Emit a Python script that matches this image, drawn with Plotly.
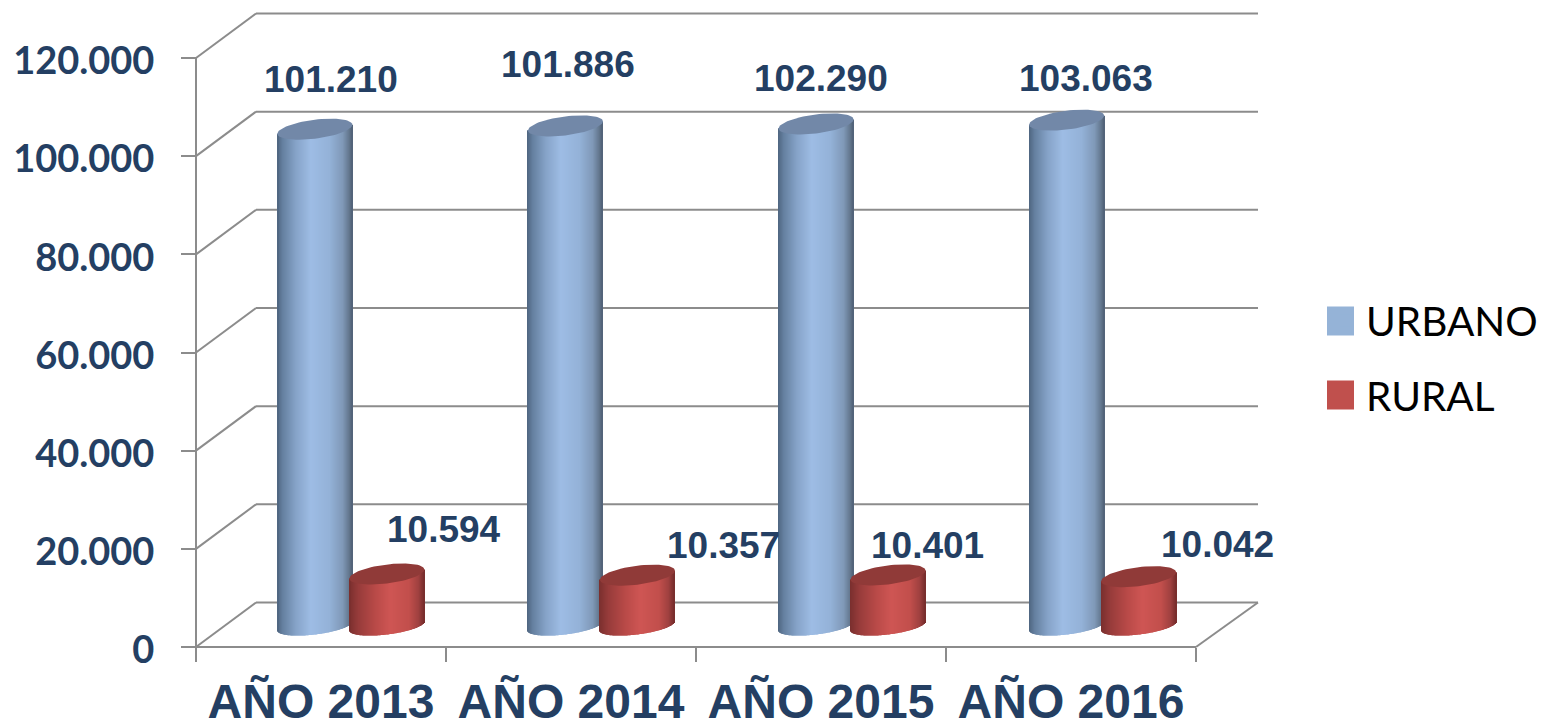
import numpy as np
import plotly.graph_objects as go

# ---- data
categories = ["AÑO 2013", "AÑO 2014", "AÑO 2015", "AÑO 2016"]
urbano = [101210, 101886, 102290, 103063]
rural = [10594, 10357, 10401, 10042]
y_ticks = [0, 20000, 40000, 60000, 80000, 100000, 120000]

# ---- label nudges in px (hand-placed in the original)
urbano_shift_x = [16, 3, 6, 21]
urbano_shift_y = [50, 61, 45, 42]
rural_shift_x = [57, 87, 41, 81]
rural_shift_y = [45, 30, 29, 32]

# ---- geometry: pixels of the page
W, H = 1554, 723
X0_PX, CAT_PX = 196, 250.0
Y0_PX, Y120_PX = 647, 58
UNIT_PER_PX = 120000 / (Y0_PX - Y120_PX)
px_x = lambda p: p / CAT_PX          # length in px -> x units
px_y = lambda p: p * UNIT_PER_PX     # length in px -> y units

DEPTH_X, DEPTH_Y = px_x(60), px_y(44.5)      # back wall shift
MID_X, MID_Y = px_x(29.5), px_y(21)          # bars stand mid-depth
PITCH = 250.6 / CAT_PX
HALF_W = 37.5
BAR_OFF = 36
ELL_B = 9.5
ELL_B_LOW = 8.5
SHEAR = 0.12
N = 75

GREY = "#8C8C8C"
TEXT = "#243F63"
BLUE_LEGEND, RED_LEGEND = "#95B3D7", "#C0504D"
BLUE_STOPS = [(-1, "#4F6580"), (-0.85, "#6580A0"), (-0.5, "#86A3C8"), (-0.1, "#9EBDE5"),
              (0.4, "#94B2D8"), (0.75, "#8099B8"), (0.92, "#64788F"), (1, "#506176")]
RED_STOPS = [(-1, "#7A2F2E"), (-0.75, "#973C3B"), (-0.3, "#B94A48"), (0.1, "#CF5654"),
             (0.6, "#C24F4C"), (0.85, "#A04140"), (1, "#762D2C")]


def hex_rgb(h):
    return [int(h[i:i + 2], 16) for i in (1, 3, 5)]


def shade(stops, u):
    xs = [s[0] for s in stops]
    cols = np.array([hex_rgb(s[1]) for s in stops])
    return "rgb(%d,%d,%d)" % tuple(np.interp(u, xs, cols[:, c]) for c in range(3))


def cylinder_traces(values, side, stops, top_color, name, legend_color, legend_u):
    sx, sy, sbase, scol = [], [], [], []
    ell = []
    us = (np.arange(N) + 0.5) / N * 2 - 1
    w = px_x(2 * HALF_W) / N
    for k, v in enumerate(values):
        cx = (k + 0.5) * PITCH + MID_X + side * px_x(BAR_OFF)
        for u in us:
            dx = u * HALF_W
            bottom = MID_Y + px_y(SHEAR * dx - ELL_B_LOW * np.sqrt(1 - u * u))
            top = MID_Y + v + px_y(SHEAR * dx)
            sx.append(cx + px_x(dx))
            sbase.append(bottom)
            sy.append(top - bottom)
            scol.append(shade(stops, u))
        t = np.linspace(0, 2 * np.pi, 73)
        ex = cx + px_x(HALF_W * np.cos(t))
        ey = MID_Y + v + px_y(SHEAR * HALF_W * np.cos(t) + ELL_B * np.sin(t))
        ell.append(go.Scatter(x=ex, y=ey, mode="lines", fill="toself", fillcolor=top_color,
                              line=dict(width=0, color=top_color), hoverinfo="skip",
                              showlegend=False))
    # the legend swatch takes the first strip's colour: lead with a strip of that colour
    i = int(np.argmin(np.abs(us - legend_u)))
    for lst in (sx, sy, sbase, scol):
        lst[0], lst[i] = lst[i], lst[0]
    scol[0] = legend_color
    bars = go.Bar(x=sx, y=sy, base=sbase, width=w, name=name, legendgroup=name,
                  marker=dict(color=scol, line=dict(width=0)), hoverinfo="skip")
    return [bars] + ell


fig = go.Figure()
for tr in cylinder_traces(urbano, -1, BLUE_STOPS, "#7288A8", "URBANO", BLUE_LEGEND, 0.4):
    fig.add_trace(tr)
for tr in cylinder_traces(rural, 1, RED_STOPS, "#903A38", "RURAL", RED_LEGEND, 0.6):
    fig.add_trace(tr)

# ---- walls
shapes = []
line = dict(color=GREY, width=2)
n_cat = len(categories)
for v in y_ticks:
    shapes.append(dict(type="line", xref="x", yref="y", layer="below", x0=0, y0=v,
                       x1=DEPTH_X, y1=v + DEPTH_Y, line=line))
    shapes.append(dict(type="line", xref="x", yref="y", layer="below", x0=DEPTH_X, y0=v + DEPTH_Y,
                       x1=n_cat + px_x(62), y1=v + DEPTH_Y, line=line))
shapes.append(dict(type="line", xref="x", yref="y", layer="below", x0=0, y0=0, x1=0, y1=120000, line=line))
shapes.append(dict(type="line", xref="x", yref="y", layer="below", x0=0, y0=0, x1=n_cat, y1=0, line=line))
shapes.append(dict(type="line", xref="x", yref="y", layer="below", x0=n_cat, y0=0,
                   x1=n_cat + px_x(62), y1=DEPTH_Y, line=line))

# ---- legend swatches (the legend's own are too small for this size)
for y_px, col in [(321, BLUE_LEGEND), (395, RED_LEGEND)]:
    shapes.append(dict(type="rect", xref="paper", yref="paper", layer="above",
                       x0=1327 / W, x1=1354 / W, y0=1 - (y_px + 14.5) / H, y1=1 - (y_px - 14.5) / H,
                       fillcolor=col, line=dict(width=0)))

# ---- value labels
ann = []


def fmt(v):
    return f"{v:,}".replace(",", ".")


for k in range(n_cat):
    for vals, side, sxs, sys_ in [(urbano, -1, urbano_shift_x, urbano_shift_y),
                                  (rural, 1, rural_shift_x, rural_shift_y)]:
        ann.append(dict(x=k + 0.5 + MID_X + side * px_x(BAR_OFF), y=MID_Y + vals[k], xref="x", yref="y",
                        text=fmt(vals[k]), showarrow=False, xshift=sxs[k], yshift=sys_[k],
                        xanchor="center", yanchor="middle",
                        font=dict(family="Liberation Sans", size=37, color=TEXT, weight="bold")))

fig.update_layout(
    width=W, height=H, margin=dict(l=0, r=0, t=0, b=0, autoexpand=False), autosize=False,
    paper_bgcolor="white", plot_bgcolor="white",
    barmode="overlay", separators=",.",
    shapes=shapes, annotations=ann,
    showlegend=True,
    legend=dict(x=1326 / W, y=1 - 287.5 / H, xanchor="left", yanchor="top", tracegroupgap=19,
                bgcolor="rgba(0,0,0,0)", itemwidth=30,
                font=dict(family="Lato", size=40.5, color="black"), itemclick=False, itemdoubleclick=False),
    xaxis=dict(range=[-X0_PX / CAT_PX, (W - X0_PX) / CAT_PX], anchor="free", position=1 - Y0_PX / H,
               domain=[0, 1], tickmode="array", tickvals=[k + 0.5 for k in range(n_cat)], ticktext=categories,
               ticks="", showgrid=False, zeroline=False, showline=False, ticklabelstandoff=22, automargin=False,
               tickfont=dict(family="Liberation Sans", size=48, color=TEXT, weight="bold"),
               minor=dict(tickmode="array", tickvals=list(range(n_cat + 1)), ticks="outside", ticklen=14,
                          tickwidth=2, tickcolor=GREY, showgrid=False)),
    yaxis=dict(range=[(Y0_PX - H) * UNIT_PER_PX, Y0_PX * UNIT_PER_PX], anchor="free", position=X0_PX / W,
               domain=[0, 1], tickmode="array", tickvals=y_ticks, tickformat=",d", automargin=False,
               ticks="outside", ticklen=15, tickwidth=2, tickcolor=GREY, ticklabelstandoff=19,
               ticklabelshift=3, showgrid=False, zeroline=False, showline=False,
               tickfont=dict(family="Lato", size=38, color=TEXT, weight="bold")),
)

fig.write_html("out.html", config=dict(displayModeBar=False), post_script="document.body.style.margin='0';")
